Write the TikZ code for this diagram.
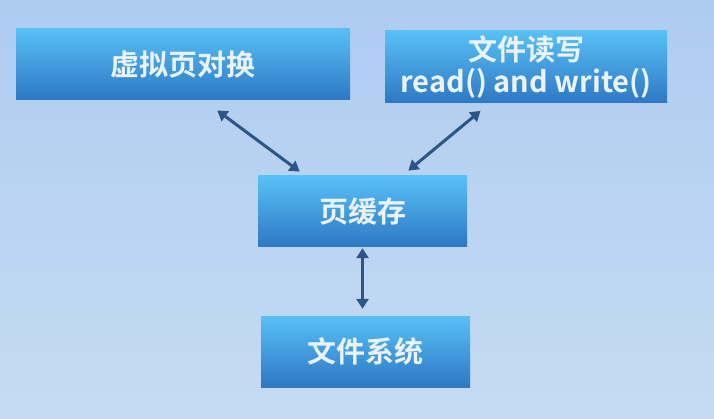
\documentclass[tikz,border=0pt]{standalone}
\usepackage{fontspec}
\usepackage{tikz}
\usetikzlibrary{arrows.meta}
\newfontfamily\cjk{Noto Sans CJK SC}[BoldFont={Noto Sans CJK SC Bold}]
\definecolor{sfondoalto}{HTML}{AECCF0}
\definecolor{sfondobasso}{HTML}{C6DBF3}
\definecolor{boxalto}{HTML}{58C0F6}
\definecolor{boxbasso}{HTML}{2E78C4}
\definecolor{freccia}{HTML}{2D5686}
\definecolor{testo}{HTML}{EAF3FC}

\begin{document}
\begin{tikzpicture}[x=1pt, y=-1pt,
        every node/.style={rectangle, inner sep=0pt, text=testo, font=\cjk\bfseries\fontsize{29}{32}\selectfont, align=center},
        blocco/.style={top color=boxalto, bottom color=boxbasso, minimum height=71pt},
        freccia/.style={draw=freccia, line width=3pt, {Triangle[length=10pt,width=12pt]}-{Triangle[length=10pt,width=12pt]}}]

        \shade[top color=sfondoalto, bottom color=sfondobasso] (0,0) rectangle (714,419);
        \useasboundingbox (0,0) rectangle (714,419);

        % Riquadri
        \node[blocco, minimum width=334pt] (v) at (183,64) {虚拟页对换};
        \node[blocco, minimum width=282pt, minimum height=72pt] (rw) at (526,67) {文件读写\\read() and write()};
        \node[blocco, minimum width=209pt] (c) at (362.5,211.5) {页缓存};
        \node[blocco, minimum width=209pt] (fs) at (365.5,351.5) {文件系统};
        % Frecce
        \draw[freccia, shorten <=18pt, shorten >=7pt] (v.-61) -- (c.148);
        \draw[freccia, shorten <=12pt, shorten >=8pt] (rw.-135) -- (c.42);
        \draw[freccia, shorten <=1pt, shorten >=7pt] (c.south) -- (c.south |- fs.north);
    \end{tikzpicture}
\end{document}
